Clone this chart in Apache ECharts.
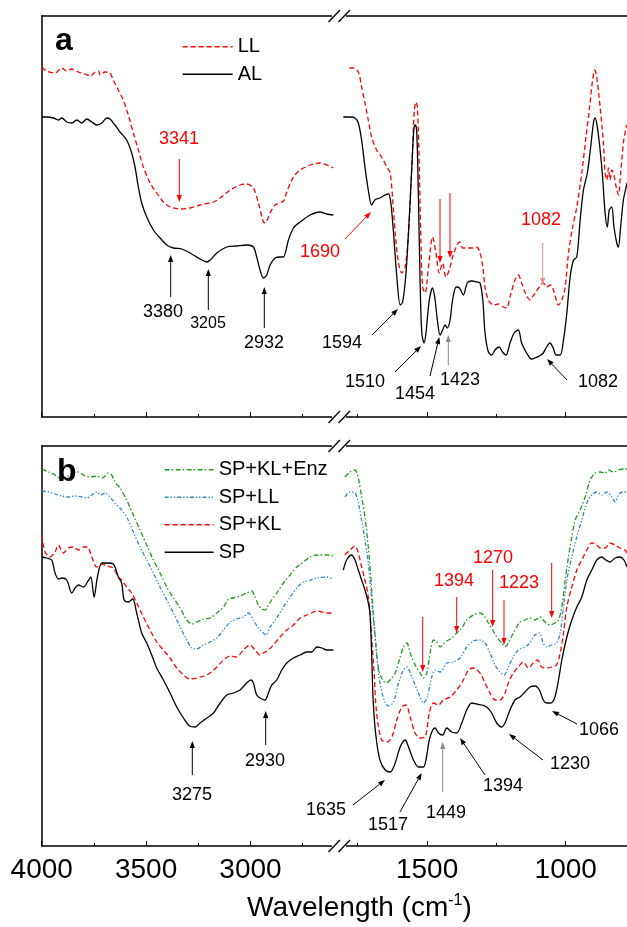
<!DOCTYPE html>
<html><head><meta charset="utf-8">
<script src="https://cdn.jsdelivr.net/npm/echarts@6/dist/echarts.min.js"></script>
<style>html,body{margin:0;padding:0;background:#fff}#c{width:627px;height:927px}</style>
</head><body><div id="c"></div>
<script>
// ---------- Data (wavenumber cm-1, transmittance a.u.) ----------
// Panel a
const llLeft = [[4000,350],[3976,346],[3936,344],[3904,349],[3880,346],[3856,348],[3824,345],[3792,343],[3768,341],[3744,345],[3728,346],[3720,342],[3696,345],[3673,344],[3657,337],[3633,327],[3609,317],[3585,302],[3561,284],[3537,267],[3513,250],[3481,234],[3449,224],[3417,215],[3385,210],[3337,208],[3289,209],[3241,212],[3177,215],[3145,219],[3097,227],[3050,232],[3018,233],[2986,229],[2962,214],[2938,195],[2930,194],[2906,204],[2882,212],[2842,216],[2826,225],[2794,240],[2762,247],[2714,252],[2699,253],[2667,254],[2603,249]];
const alLeft = [[4000,300],[3976,300],[3944,299],[3920,297],[3904,299],[3880,295],[3856,294],[3832,297],[3808,294],[3784,298],[3760,295],[3736,292],[3712,294],[3688,299],[3673,298],[3649,292],[3625,285],[3593,277],[3569,264],[3553,250],[3537,230],[3521,214],[3497,200],[3465,187],[3433,179],[3401,172],[3369,169],[3329,168],[3289,164],[3241,158],[3209,155],[3193,157],[3161,164],[3113,170],[3066,171],[3018,172],[2986,170],[2970,160],[2954,147],[2938,139],[2922,142],[2906,152],[2882,159],[2858,160],[2842,160],[2818,177],[2794,189],[2762,195],[2714,202],[2667,205],[2635,203],[2603,202]];
const llRight = [[1780,349],[1766,349],[1748,345],[1736,330],[1724,314],[1712,297],[1700,280],[1682,267],[1664,260],[1645,250],[1633,244],[1624,217],[1615,184],[1603,154],[1591,144],[1579,150],[1567,184],[1555,250],[1546,307],[1540,315],[1535,310],[1528,250],[1523,184],[1516,130],[1507,124],[1495,150],[1480,180],[1468,164],[1456,144],[1444,154],[1432,140],[1420,147],[1408,160],[1395,170],[1383,175],[1371,169],[1357,169],[1339,169],[1321,170],[1309,164],[1299,150],[1291,130],[1279,117],[1261,112],[1243,113],[1225,110],[1213,109],[1201,120],[1183,137],[1171,142],[1159,134],[1147,125],[1129,117],[1111,124],[1095,130],[1081,134],[1069,130],[1054,132],[1042,125],[1026,112],[1014,117],[1002,130],[990,164],[975,190],[960,210],[942,244],[927,280],[915,307],[903,337],[895,347],[888,340],[876,310],[864,274],[858,244],[852,237],[846,249],[840,237],[834,247],[828,244],[818,230],[810,222],[802,244],[792,274],[782,290],[779,292]];
const alRight = [[1802,300],[1778,300],[1760,299],[1748,294],[1736,277],[1724,250],[1712,227],[1700,212],[1688,217],[1670,219],[1651,222],[1639,223],[1631,215],[1621,184],[1609,140],[1597,112],[1588,115],[1576,144],[1564,200],[1555,250],[1547,290],[1542,292],[1537,284],[1531,217],[1525,134],[1519,84],[1511,74],[1504,84],[1492,117],[1480,129],[1471,117],[1463,97],[1453,82],[1444,87],[1435,92],[1427,89],[1417,97],[1408,117],[1395,130],[1383,129],[1369,122],[1355,134],[1339,136],[1321,135],[1309,134],[1299,117],[1291,84],[1279,65],[1267,62],[1255,67],[1240,70],[1228,65],[1215,62],[1201,74],[1186,84],[1171,87],[1159,74],[1141,64],[1123,58],[1111,59],[1095,61],[1081,64],[1069,70],[1057,74],[1045,69],[1035,62],[1020,62],[1008,77],[996,104],[984,140],[972,157],[960,160],[948,197],[936,227],[922,244],[910,270],[900,294],[894,299],[886,290],[876,267],[867,240],[858,204],[850,190],[843,207],[834,210],[826,190],[816,174],[810,170],[802,190],[792,217],[782,230],[779,234]];
// Panel b
const enzLeft = [[4000,377],[3968,374],[3936,371],[3904,367],[3880,369],[3856,373],[3824,374],[3800,371],[3768,369],[3736,370],[3712,368],[3696,370],[3681,373],[3665,371],[3649,364],[3625,358],[3593,346],[3561,331],[3529,316],[3497,301],[3465,286],[3433,273],[3401,259],[3369,248],[3337,238],[3305,226],[3281,222],[3257,224],[3225,227],[3193,228],[3161,233],[3129,239],[3105,247],[3081,248],[3050,250],[3018,253],[2994,255],[2978,249],[2962,241],[2946,237],[2930,236],[2914,241],[2898,246],[2874,253],[2842,263],[2810,271],[2778,279],[2746,284],[2714,289],[2682,291],[2634,291],[2603,290]];
const llbLeft = [[4000,355],[3968,354],[3936,352],[3904,350],[3872,349],[3840,350],[3808,349],[3784,348],[3760,351],[3736,354],[3720,351],[3696,353],[3673,349],[3649,343],[3625,338],[3593,329],[3561,314],[3529,299],[3497,286],[3465,273],[3433,259],[3401,246],[3369,233],[3337,219],[3305,206],[3281,198],[3257,197],[3225,201],[3193,204],[3161,208],[3129,216],[3097,224],[3066,227],[3034,229],[3010,233],[2986,226],[2962,218],[2938,213],[2925,211],[2906,219],[2874,228],[2842,239],[2810,249],[2778,258],[2746,264],[2714,266],[2682,268],[2634,269],[2603,267]];
const klLeft = [[4000,311],[3984,294],[3960,289],[3936,294],[3920,301],[3896,293],[3872,298],[3848,299],[3824,296],[3800,299],[3781,299],[3760,289],[3736,279],[3712,282],[3688,280],[3657,278],[3633,269],[3617,266],[3593,259],[3569,253],[3545,243],[3513,229],[3481,216],[3449,204],[3417,196],[3385,188],[3353,178],[3321,171],[3289,167],[3257,168],[3225,170],[3193,173],[3161,179],[3129,186],[3097,190],[3066,189],[3034,196],[3002,201],[2978,196],[2954,191],[2938,193],[2914,196],[2890,201],[2858,209],[2826,216],[2794,221],[2762,228],[2730,231],[2698,234],[2682,235],[2634,233],[2603,233]];
const spLeft = [[4000,289],[3976,288],[3952,286],[3936,273],[3920,267],[3904,268],[3880,266],[3856,253],[3840,258],[3824,261],[3800,259],[3781,264],[3765,269],[3749,249],[3733,269],[3712,283],[3688,283],[3657,282],[3633,269],[3617,263],[3605,246],[3585,244],[3564,247],[3545,233],[3521,213],[3497,203],[3473,191],[3449,178],[3417,166],[3385,153],[3353,139],[3321,128],[3292,120],[3265,119],[3241,123],[3209,128],[3177,133],[3145,143],[3113,151],[3081,153],[3050,156],[3018,163],[2998,166],[2986,163],[2970,151],[2946,147],[2930,146],[2914,153],[2898,161],[2874,166],[2850,176],[2826,183],[2794,188],[2762,191],[2730,194],[2706,194],[2682,199],[2658,198],[2634,196],[2603,196]];
const enzRight = [[1796,369],[1778,374],[1760,376],[1748,368],[1736,349],[1724,329],[1712,299],[1702,266],[1694,233],[1684,199],[1676,179],[1664,168],[1648,163],[1633,166],[1615,173],[1597,189],[1585,199],[1573,203],[1561,193],[1543,181],[1525,173],[1513,168],[1501,173],[1489,193],[1477,206],[1465,204],[1453,199],[1435,204],[1411,208],[1393,213],[1375,218],[1357,226],[1333,231],[1309,233],[1291,229],[1279,223],[1267,218],[1249,209],[1231,203],[1219,199],[1207,203],[1189,213],[1165,224],[1147,226],[1129,228],[1111,226],[1093,229],[1075,224],[1057,221],[1039,223],[1026,226],[1014,239],[1002,266],[990,289],[978,309],[966,326],[948,336],[930,349],[912,366],[894,373],[876,374],[858,373],[846,376],[828,374],[810,376],[792,377],[779,377]];
const llbRight = [[1796,349],[1778,354],[1760,353],[1748,343],[1736,326],[1724,306],[1712,283],[1702,253],[1691,219],[1682,193],[1670,163],[1651,143],[1639,140],[1621,144],[1603,163],[1585,176],[1573,179],[1555,169],[1531,153],[1513,143],[1499,149],[1483,169],[1471,176],[1453,174],[1429,183],[1405,184],[1381,188],[1357,199],[1333,205],[1309,206],[1291,203],[1273,193],[1255,181],[1237,174],[1222,171],[1207,179],[1189,189],[1171,196],[1147,199],[1129,203],[1111,211],[1095,213],[1081,203],[1069,199],[1051,201],[1033,203],[1020,213],[1008,239],[996,266],[978,289],[960,309],[942,326],[924,343],[906,351],[888,354],[870,351],[852,354],[834,349],[822,344],[810,351],[795,354],[779,354]];
const klRight = [[1796,291],[1778,296],[1760,300],[1748,293],[1736,279],[1724,266],[1714,253],[1706,233],[1700,209],[1691,173],[1682,133],[1664,106],[1645,104],[1627,109],[1609,126],[1591,139],[1576,141],[1561,129],[1543,113],[1525,108],[1507,109],[1492,133],[1477,143],[1459,141],[1441,146],[1417,149],[1393,156],[1369,166],[1351,176],[1333,178],[1309,173],[1291,163],[1273,153],[1255,146],[1237,146],[1219,153],[1207,163],[1189,173],[1171,179],[1153,184],[1135,178],[1117,183],[1102,186],[1087,179],[1069,178],[1051,179],[1033,181],[1020,193],[1008,213],[996,239],[978,259],[960,276],[942,286],[924,296],[906,303],[888,301],[876,298],[858,298],[840,303],[822,301],[804,298],[786,296],[779,293]];
const spRight = [[1802,276],[1790,286],[1772,291],[1760,286],[1748,276],[1736,266],[1724,256],[1714,246],[1706,233],[1700,193],[1694,143],[1684,109],[1670,86],[1651,76],[1633,74],[1615,83],[1597,99],[1579,106],[1567,99],[1549,86],[1531,79],[1513,79],[1504,86],[1492,106],[1480,116],[1471,118],[1459,113],[1444,111],[1429,118],[1411,114],[1393,113],[1375,123],[1357,136],[1339,143],[1321,142],[1303,141],[1285,139],[1267,133],[1249,123],[1231,119],[1219,123],[1201,136],[1183,146],[1165,149],[1147,154],[1129,159],[1111,160],[1095,156],[1081,146],[1069,143],[1054,143],[1039,149],[1026,166],[1014,186],[996,209],[978,226],[960,239],[942,249],[924,266],[906,276],[888,286],[870,289],[855,286],[840,284],[822,288],[804,289],[790,286],[779,279]];

// Tick values
const majorLeft = [4000, 3500, 3000];
const minorLeft = [3750, 3250, 2750];
const majorRight = [1500, 1000];
const minorRight = [1750, 1250];
const legendA = ['LL', 'AL'];
const legendB = ['SP+KL+Enz', 'SP+LL', 'SP+KL', 'SP'];

// ---------- Styles ----------
const FONT = '"Liberation Sans", Arial, Helvetica, sans-serif';
const ST = {
  'LL':        {color:'#ff0000', type:[5,3]},
  'AL':        {color:'#000000', type:'solid'},
  'SP+KL+Enz': {color:'#1f9a1f', type:[5,2,1.5,2.5]},
  'SP+LL':     {color:'#2f85d0', type:[4,2,1.3,2,1.3,2]},
  'SP+KL':     {color:'#ff0000', type:[5,3]},
  'SP':        {color:'#000000', type:'solid'}
};

const grids = [
  {left:41.7, top:16, width:298.3, height:401},
  {left:340, top:16, width:287, height:401},
  {left:41.7, top:446, width:298.3, height:400},
  {left:340, top:446, width:287, height:400}
];
const ranges = [[2571,4000],[779,1814],[2571,4000],[779,1814]];
const majors = [majorLeft, majorRight, majorLeft, majorRight];
const minors = [minorLeft, minorRight, minorLeft, minorRight];

const xAxis = [], yAxis = [];
grids.forEach((g, gi) => {
  const common = {gridIndex:gi, type:'value', min:ranges[gi][0], max:ranges[gi][1], inverse:true, splitLine:{show:false}};
  xAxis.push(Object.assign({}, common, {
    position:'bottom',
    axisLine:{show:true, onZero:false, lineStyle:{color:'#000', width:1.5}},
    axisTick:{show:true, inside:true, length:5, customValues:majors[gi], lineStyle:{color:'#000', width:1}},
    axisLabel:{show: gi >= 2, customValues:majors[gi], color:'#000', fontSize:28, fontFamily:FONT, margin:10,
      formatter: v => String(v)}
  }));
  xAxis.push(Object.assign({}, common, {
    position:'bottom',
    axisLine:{show:false, onZero:false},
    axisTick:{show:true, inside:true, length:3, customValues:minors[gi], lineStyle:{color:'#000', width:1}},
    axisLabel:{show:false}
  }));
  xAxis.push(Object.assign({}, common, {
    position:'top',
    axisLine:{show:true, onZero:false, lineStyle:{color:'#000', width:1.5}},
    axisTick:{show:false}, axisLabel:{show:false}
  }));
  yAxis.push({gridIndex:gi, type:'value', min:0, max: gi < 2 ? 401 : 400, show: gi % 2 === 0,
    axisLine:{show:true, onZero:false, lineStyle:{color:'#000', width:1.5}},
    axisTick:{show:false}, axisLabel:{show:false}, splitLine:{show:false}});
});

function mk(name, data, gi) {
  const st = ST[name];
  return {name, type:'line', data, xAxisIndex: gi*3, yAxisIndex: gi, symbol:'none', smooth:0.3,
    lineStyle:{color:st.color, width:1.3, type:st.type}, itemStyle:{color:st.color}, animation:false};
}
const series = [
  mk('LL', llLeft, 0), mk('AL', alLeft, 0),
  mk('LL', llRight, 1), mk('AL', alRight, 1),
  mk('SP+KL+Enz', enzLeft, 2), mk('SP+LL', llbLeft, 2), mk('SP+KL', klLeft, 2), mk('SP', spLeft, 2),
  mk('SP+KL+Enz', enzRight, 3), mk('SP+LL', llbRight, 3), mk('SP+KL', klRight, 3), mk('SP', spRight, 3)
];

// ---------- Annotations ----------
const G = [];
function txt(x, y, s, color, size, weight) {
  G.push({type:'text', x, y, z:100, style:{text:s, fill:color, font:(weight||'normal') + ' ' + size + 'px ' + FONT, align:'center', verticalAlign:'middle'}});
}
function arrow(x1, y1, x2, y2, color) {
  const a = Math.atan2(y2 - y1, x2 - x1), L = 7, W = 2.6;
  const bx = x2 - L*Math.cos(a), by = y2 - L*Math.sin(a);
  G.push({type:'line', z:100, shape:{x1, y1, x2:bx, y2:by}, style:{stroke:color, lineWidth:1}});
  G.push({type:'polygon', z:100, shape:{points:[[x2,y2],[bx - W*Math.sin(a), by + W*Math.cos(a)],[bx + W*Math.sin(a), by - W*Math.cos(a)]]}, style:{fill:color}});
}
const RED = '#ff0000', BLK = '#000000', GRY = '#8a8a8a', PINK = '#f28a8a';
// panel labels
G.push({type:'text', x:55, y:41, z:100, style:{text:'a', fill:'#000', font:'bold 32px ' + FONT, align:'left', verticalAlign:'middle'}});
G.push({type:'text', x:57, y:472, z:100, style:{text:'b', fill:'#000', font:'bold 32px ' + FONT, align:'left', verticalAlign:'middle'}});
// panel a
txt(179, 139, '3341', RED, 18); arrow(179.3, 159, 179.3, 202, RED);
txt(163, 312, '3380', BLK, 18); arrow(170.7, 297, 170.7, 255, BLK);
txt(208, 324, '3205', BLK, 16); arrow(208.3, 310, 208.3, 269, BLK);
txt(264, 343, '2932', BLK, 18); arrow(264.3, 328, 264.3, 287, BLK);
txt(320, 252, '1690', RED, 18); arrow(345, 239, 371, 212, RED);
txt(342, 343, '1594', BLK, 18); arrow(372, 335, 398, 309, BLK);
txt(365, 382, '1510', BLK, 18); arrow(395, 372, 421, 346, BLK);
txt(415, 394, '1454', BLK, 18); arrow(430, 376, 439.3, 337, BLK);
txt(460, 380, '1423', BLK, 18); arrow(448.3, 365, 448.3, 335, GRY);
txt(598, 382, '1082', BLK, 18); arrow(567, 380, 547, 359, BLK);
txt(541, 220, '1082', RED, 18); arrow(542.7, 243, 542.7, 285, PINK);
arrow(440, 199, 440, 263, RED); arrow(450, 193, 450, 258, RED);
// panel b
txt(192, 795, '3275', BLK, 18); arrow(192.3, 775, 192.3, 741, BLK);
txt(265, 761, '2930', BLK, 18); arrow(265.7, 745, 265.7, 711, BLK);
txt(326, 810, '1635', BLK, 18); arrow(353, 805, 385, 780, BLK);
txt(388, 825, '1517', BLK, 18); arrow(400, 812, 421.7, 773, BLK);
txt(446, 813, '1449', BLK, 18); arrow(442.7, 792, 442.7, 742, GRY);
txt(503, 786, '1394', BLK, 18); arrow(485, 775, 460, 738, BLK);
txt(570, 764, '1230', BLK, 18); arrow(543, 760, 509, 734, BLK);
txt(599, 730, '1066', BLK, 18); arrow(577, 724, 552, 711, BLK);
txt(454, 581, '1394', RED, 18); arrow(456.7, 597, 456.7, 633, RED);
txt(493, 558, '1270', RED, 18); arrow(492.7, 570, 492.7, 627, RED);
txt(519, 583, '1223', RED, 18); arrow(504, 600, 504, 645, RED);
arrow(422.7, 617, 422.7, 672, RED);
arrow(551.7, 563, 551.7, 618, RED);
// axis breaks
[16, 417, 446, 846].forEach(y => {
  G.push({type:'rect', z:101, shape:{x:332, y:y - 2.5, width:14, height:5}, style:{fill:'#fff'}});
  G.push({type:'line', z:102, shape:{x1:328.5, y1:y + 6, x2:340, y2:y - 6}, style:{stroke:'#000', lineWidth:1.3}});
  G.push({type:'line', z:102, shape:{x1:338.5, y1:y + 6, x2:350, y2:y - 6}, style:{stroke:'#000', lineWidth:1.3}});
});
// axis title
G.push({type:'text', x:247, y:908, z:100, style:{text:'{m|Wavelength (cm}{s|-1}{m|)}', align:'left', verticalAlign:'middle',
  rich:{m:{fontSize:28, fontFamily:FONT, fill:'#000', lineHeight:30}, s:{fontSize:16, fontFamily:FONT, fill:'#000', verticalAlign:'top', lineHeight:30}}}});

const legendCommon = {orient:'vertical', itemHeight:14, itemGap:0, padding:0, selectedMode:false,
  itemStyle:{color:'rgba(0,0,0,0)', borderWidth:0, opacity:0}, lineStyle:{width:1.3},
  textStyle:{fontSize:20, fontFamily:FONT, color:'#000', lineHeight:27.5}};
const chart = echarts.init(document.getElementById('c'), null, {renderer:'canvas'});
chart.setOption({
  animation:false,
  backgroundColor:'#fff',
  grid: grids,
  xAxis, yAxis, series,
  legend:[
    Object.assign({}, legendCommon, {data:legendA, left:182, top:33, itemWidth:50}),
    Object.assign({}, legendCommon, {data:legendB, left:164, top:456, itemWidth:49})
  ],
  graphic: G
});
</script></body></html>
